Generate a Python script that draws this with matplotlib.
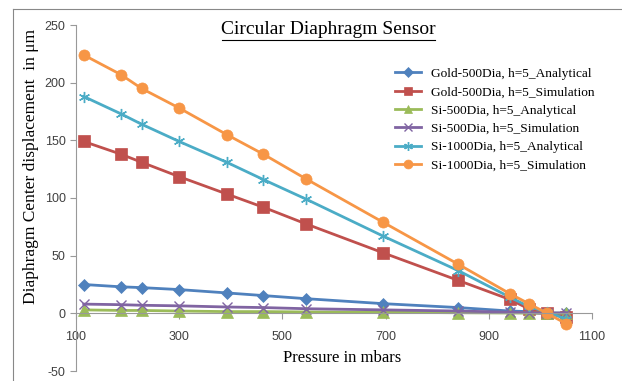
import matplotlib.pyplot as plt
from matplotlib.lines import Line2D

plt.rcParams['axes.unicode_minus'] = False

# pressure values (mbar)
pressure = [115, 187, 227, 300, 392, 463, 546, 695, 841, 941, 977, 1013, 1050]

gold_ana = [25, 23, 22.3, 20.6, 17.7, 15.4, 12.7, 8.4, 5, 2, 1.5, 0.5, 0]
gold_sim = [149, 138, 131, 118.5, 103.5, 92, 77.5, 52.5, 28.5, 12, 4, 0, -3]
si500_ana = [3, 2.5, 2.5, 2, 1.5, 1.5, 1.2, 1, 0.5, 0.3, 0.2, 0.1, 0]
si500_sim = [8, 7.5, 7, 6.5, 5.5, 5, 4, 3, 2, 1, 0.5, 0, 0.5]
si1000_ana = [188, 173, 164, 149, 131, 116, 99, 67, 37, 14, 6, 1, -5]
si1000_sim = [224, 207, 195, 178, 155, 138, 116.5, 79, 42.5, 17, 8.5, 0, -9]

labels = ['Gold-500Dia, h=5_Analytical', 'Gold-500Dia, h=5_Simulation',
          'Si-500Dia, h=5_Analytical', 'Si-500Dia, h=5_Simulation',
          'Si-1000Dia, h=5_Analytical', 'Si-1000Dia, h=5_Simulation']
series = [gold_ana, gold_sim, si500_ana, si500_sim, si1000_ana, si1000_sim]
colors = ['#4F81BD', '#C0504D', '#9BBB59', '#8064A2', '#4BACC6', '#F79646']
markers = ['D', 's', '^', 'x', (6, 2, 0), 'o']
msizes = [6, 8, 8, 7, 8, 8]

serif = 'Liberation Serif'
sans = 'Liberation Sans'

fig = plt.figure(figsize=(6.22, 3.81), dpi=100)
ax = fig.add_axes([76/622, 1-371/381, (592-76)/622, (371-25)/381])

for y, lab, c, m, ms in zip(series, labels, colors, markers, msizes):
    ax.plot(pressure, y, color=c, marker=m, markersize=ms, linewidth=2,
            markeredgewidth=1.0 if m in ('x', (6, 2, 0)) else 0.5,
            markeredgecolor=c, label=lab)

ax.set_xlim(100, 1100)
ax.set_ylim(-50, 250)
ax.set_xticks([100, 300, 500, 700, 900, 1100])
ax.set_yticks([-50, 0, 50, 100, 150, 200, 250])

for s in ['top', 'right']:
    ax.spines[s].set_visible(False)
ax.spines['bottom'].set_position(('data', 0))
ax.spines['bottom'].set_color('#999999')
ax.spines['left'].set_color('#999999')
ax.tick_params(axis='both', colors='#999999', labelcolor='#404040',
               labelsize=9, length=4)
ax.tick_params(axis='x', pad=9)
for t in ax.get_xticklabels() + ax.get_yticklabels():
    t.set_family(sans)

fig.text(328/622, 1-30/381, 'Circular Diaphragm Sensor', family=serif,
         fontsize=14, ha='center', va='center')
fig.add_artist(Line2D([222/622, 435/622], [1-40/381, 1-40/381],
                      color='black', linewidth=0.8))

fig.text(31/622, 1-166/381, 'Diaphragm Center displacement  in \u03bcm',
         family=serif, fontsize=12.5, rotation=90, ha='center', va='center')
fig.text(342/622, 1-358/381, 'Pressure in mbars', family=serif,
         fontsize=12, ha='center', va='center')

leg = ax.legend(loc='upper left', bbox_to_anchor=(388/622, 1-61/381),
                bbox_transform=fig.transFigure, frameon=False,
                prop={'family': serif, 'size': 9.6}, handlelength=2.0,
                labelspacing=0.45, handletextpad=0.7, borderpad=0,
                markerscale=0.8)

# chart border (top and left only visible)
fig.add_artist(Line2D([13/622, 1], [1-9/381, 1-9/381], color='#888888', linewidth=0.8))
fig.add_artist(Line2D([13/622, 13/622], [0, 1-9/381], color='#888888', linewidth=0.8))

fig.savefig('out.png', dpi=100)
